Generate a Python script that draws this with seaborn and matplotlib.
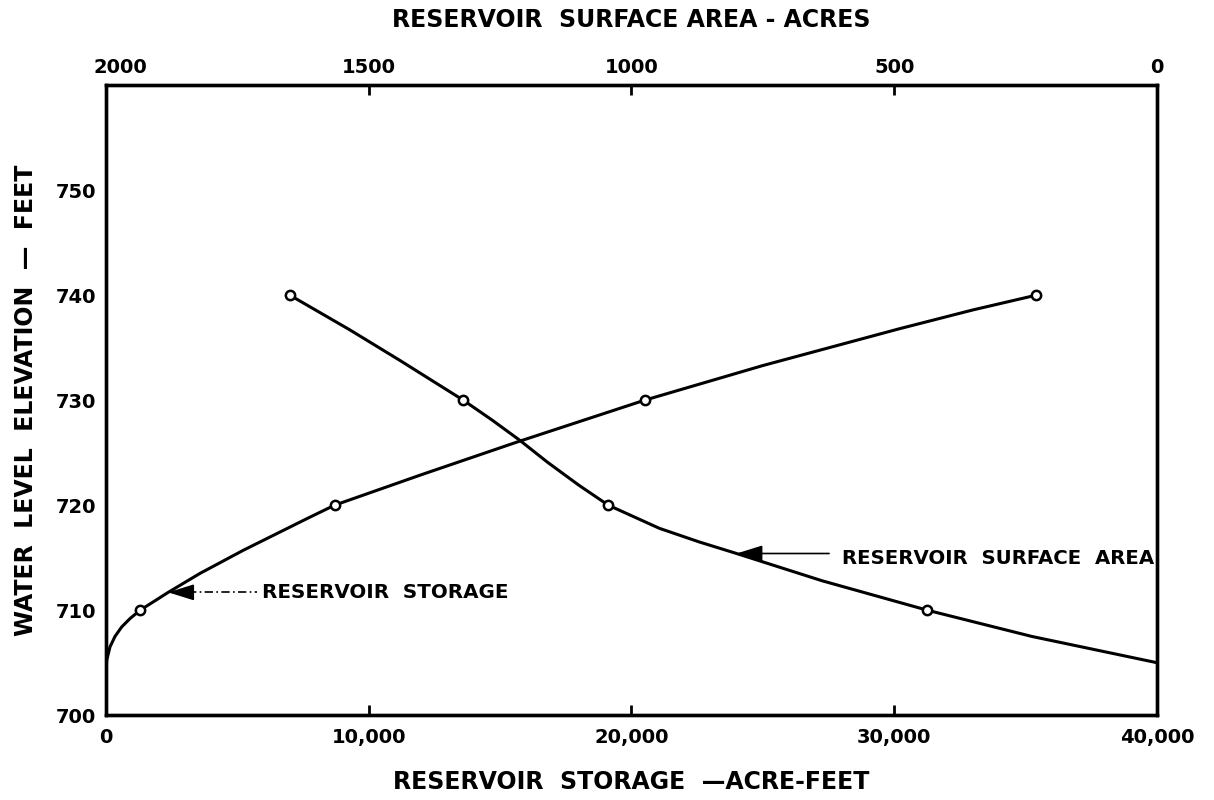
import matplotlib
matplotlib.use("Agg")
import matplotlib.pyplot as plt
import matplotlib.transforms as mtransforms
import numpy as np
import pandas as pd
import seaborn as sns

# Reservoir storage curve (acre-feet vs water level elevation, feet)
storage_curve_af = [0, 25, 152, 342, 596, 913, 1300, 2369, 3574, 5221, 7631,
                    8700, 12000, 15627, 20500, 25000, 30190, 33000, 35400]
storage_curve_elev = [703.3, 705.2, 706.5, 707.5, 708.4, 709.2, 710.0, 711.7,
                      713.5, 715.7, 718.7, 720.0, 722.9, 726.0, 730.0, 733.3,
                      736.8, 738.6, 740.0]
storage_pts_af = [1300, 8700, 20500, 35400]
storage_pts_elev = [710, 720, 730, 740]

# Reservoir surface area curve (acres vs water level elevation, feet)
area_curve_ac = [1650, 1536, 1441, 1320, 1265, 1213, 1160, 1100, 1044, 947,
                 871, 800, 637, 437, 238, 0]
area_curve_elev = [740.0, 736.7, 733.8, 730.0, 728.1, 726.2, 724.1, 721.9,
                   720.0, 717.8, 716.5, 715.4, 712.8, 710.0, 707.5, 705.0]
area_pts_ac = [1650, 1320, 1044, 437]
area_pts_elev = [740, 730, 720, 710]

storage_ticks = [0, 10000, 20000, 30000, 40000]
storage_ticklabels = ["0", "10,000", "20,000", "30,000", "40,000"]
area_ticks = [2000, 1500, 1000, 500, 0]
area_ticklabels = ["2000", "1500", "1000", "500", "0"]
elev_ticks = [700, 710, 720, 730, 740, 750]

sns.set_theme(style="white")
plt.rcParams["font.family"] = ["DejaVu Sans"]
plt.rcParams["font.weight"] = "bold"

INK = "black"
fig = plt.figure(figsize=(12.14, 8), dpi=100)
ax = fig.add_axes([0.0873, 0.106, 0.8657, 0.7875])

storage_df = pd.DataFrame({"storage": storage_curve_af, "elev": storage_curve_elev})
storage_pts = pd.DataFrame({"storage": storage_pts_af, "elev": storage_pts_elev})
area_df = pd.DataFrame({"area": area_curve_ac, "elev": area_curve_elev})
area_pts = pd.DataFrame({"area": area_pts_ac, "elev": area_pts_elev})

sns.lineplot(data=storage_df, x="storage", y="elev", sort=False, estimator=None,
             color=INK, linewidth=2.2, ax=ax)
sns.scatterplot(data=storage_pts, x="storage", y="elev", s=45, facecolor="white",
                edgecolor=INK, linewidth=1.8, zorder=5, ax=ax)

ax.set_xlim(0, 40000)
ax.set_ylim(700, 760)
ax.set_xticks(storage_ticks)
ax.set_xticklabels(storage_ticklabels)
ax.set_yticks(elev_ticks)
ax.tick_params(axis="both", direction="in", length=7, width=2, color=INK,
               labelsize=14, labelcolor=INK)
ax.tick_params(axis="x", pad=9)
ax.tick_params(axis="y", pad=7)
ax.set_xlabel("RESERVOIR  STORAGE  \u2014ACRE-FEET", fontsize=17,
              fontweight="bold", color=INK, labelpad=17)
ax.set_ylabel("WATER  LEVEL  ELEVATION  \u2014  FEET", fontsize=17,
              fontweight="bold", color=INK, labelpad=13)

# Surface area shares the elevation axis, with acres running right-to-left on top
ax2 = ax.twiny()
sns.lineplot(data=area_df, x="area", y="elev", sort=False, estimator=None,
             color=INK, linewidth=2.2, ax=ax2)
sns.scatterplot(data=area_pts, x="area", y="elev", s=45, facecolor="white",
                edgecolor=INK, linewidth=1.8, zorder=5, ax=ax2)
ax2.set_xlim(2000, 0)
ax2.set_ylim(700, 760)
ax2.set_xticks(area_ticks)
ax2.set_xticklabels(area_ticklabels)
ax2.tick_params(axis="x", direction="in", length=7, width=2, color=INK,
                labelsize=14, labelcolor=INK, pad=6)
ax2.set_xlabel("RESERVOIR  SURFACE AREA - ACRES", fontsize=17,
               fontweight="bold", color=INK, labelpad=22)
ax2.set_ylabel("")

for a in (ax, ax2):
    for sp in a.spines.values():
        sp.set_linewidth(2.4)
        sp.set_color(INK)
ax.tick_params(axis="x", top=False)
ax.tick_params(axis="y", right=False)

for lbl in ax.get_xticklabels() + ax.get_yticklabels() + ax2.get_xticklabels():
    lbl.set_fontweight("bold")

# Nudge the corner label "2000" clear of the left spine
first_top = ax2.get_xticklabels()[0]
first_top.set_transform(first_top.get_transform()
                        + mtransforms.ScaledTranslation(14 / 100, 0, fig.dpi_scale_trans))

# Leader for the storage curve: dash-dot line with a solid arrow head
ax.plot([3118, 5741], [711.7, 711.7], color=INK, linewidth=1.2,
        linestyle=(0, (5, 2, 1, 2)))
ax.annotate("", xy=(2369, 711.7), xytext=(3200, 711.7),
            arrowprops=dict(arrowstyle="-|>,head_length=0.8,head_width=0.25",
                            color=INK, lw=1.2, mutation_scale=20,
                            shrinkA=0, shrinkB=0))
ax.text(5932, 711.65, "RESERVOIR  STORAGE", fontsize=14.3, fontweight="bold",
        color=INK, ha="left", va="center")

# Leader for the surface area curve
ax2.annotate("", xy=(800, 715.4), xytext=(624, 715.4),
             arrowprops=dict(arrowstyle="-|>,head_length=0.8,head_width=0.25",
                             color=INK, lw=1.2, mutation_scale=20,
                             shrinkA=0, shrinkB=0))
ax2.text(599, 714.9, "RESERVOIR  SURFACE  AREA", fontsize=14.2,
         fontweight="bold", color=INK, ha="left", va="center")

fig.savefig("out.png", dpi=100, facecolor="white")
